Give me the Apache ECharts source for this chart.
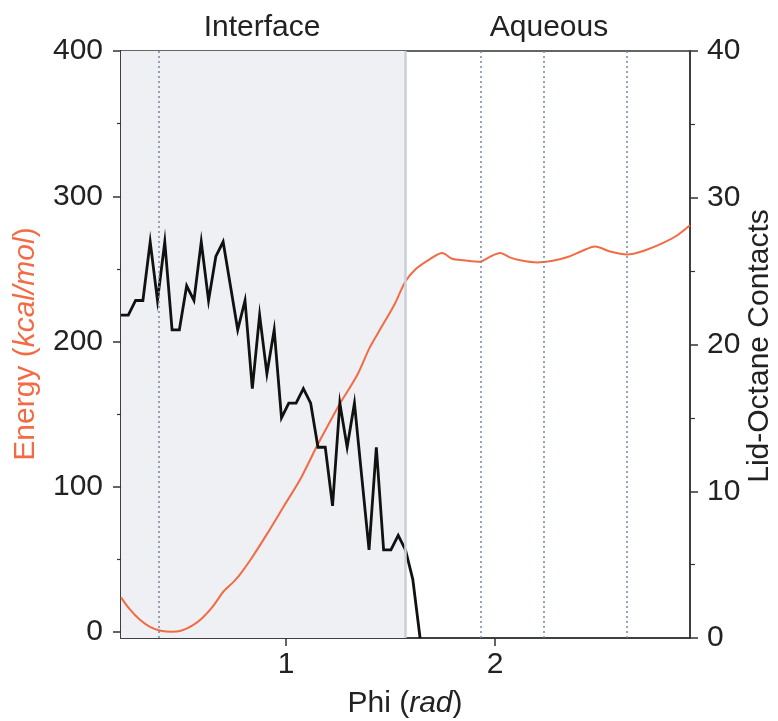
<!DOCTYPE html>
<html>
<head>
<meta charset="utf-8">
<script src="https://cdn.jsdelivr.net/npm/echarts@6/dist/echarts.min.js"></script>
<style>
html,body{margin:0;padding:0;background:#fff;}
#chart{width:778px;height:721px;}
</style>
</head>
<body>
<div id="chart"></div>
<script>
// ---- data ----
var phiRange = [0.2094, 2.9322];           // rad (12° .. 168°)
var phiTicks = [1, 2];
var energyTicks = [0, 100, 200, 300, 400];
var energyMinorTicks = [50, 150, 250, 350];
var contactTicks = [0, 10, 20, 30, 40];
var regionLabels = ['Interface', 'Aqueous'];
var interfaceEnd = 1.5708;
var markerPhi = [0.392, 1.926, 2.225, 2.626];

var energyPhi = [0.2094,0.25,0.30,0.35,0.40,0.45,0.50,0.55,0.60,0.65,0.70,0.75,0.78,0.83,0.91,0.99,1.07,1.15,1.21,1.26,1.34,1.40,1.46,1.52,1.569,1.62,1.69,1.746,1.794,1.85,1.928,1.97,2.024,2.07,2.12,2.20,2.27,2.343,2.41,2.478,2.55,2.632,2.70,2.804,2.87,2.932];
var energyValues = [24,16,8.5,3.5,1,0.3,1.2,4.5,10,18,28,35,40,50,68,87,106,129,145,158,177,196,211,226,241,250,257,261,257,256,255,258,261,258,256,254.5,255.5,258,262,265.5,262,260,262,268,273,280];

var contactPhi = [0.2094,0.2443,0.2793,0.3142,0.3491,0.3840,0.4189,0.4538,0.4887,0.5236,0.5585,0.5934,0.6283,0.6632,0.6981,0.7330,0.7679,0.8029,0.8378,0.8727,0.9076,0.9425,0.9774,1.0123,1.0472,1.0821,1.1170,1.1519,1.1868,1.2217,1.2566,1.2915,1.3265,1.3614,1.3963,1.4312,1.4661,1.5010,1.5359,1.5708,1.6057,1.6406];
var contactValues = [22,22,23,23,27,23,27,21,21,24,23,27,23,26,27,24,21,23,17,22,18,21,15,16,16,17,16,13,13,9,16,13,16,11,6,13,6,6,7,6,4,0];

// ---- chart ----
var FONT = '"Liberation Sans", Arial, Helvetica, sans-serif';
var ORANGE = '#f26b45';
var AXIS = '#333';
var chart = echarts.init(document.getElementById('chart'), null, {renderer: 'canvas'});

function zip(xs, ys) { return xs.map(function (x, i) { return [x, ys[i]]; }); }

var GL = 121, GR = 88, GT = 51, GB = 83;

var option = {
  animation: false,
  backgroundColor: '#fff',
  grid: {left: GL, right: GR, top: GT, bottom: GB, show: true, borderColor: AXIS, borderWidth: 1.5, backgroundColor: 'transparent', containLabel: false},
  xAxis: {
    type: 'value', min: phiRange[0], max: phiRange[1],
    axisLine: {show: true, onZero: false, lineStyle: {color: AXIS, width: 1.5}},
    axisTick: {show: true, customValues: phiTicks, length: 8, lineStyle: {color: AXIS, width: 1.5}},
    axisLabel: {show: true, customValues: phiTicks, margin: 12, fontSize: 30, color: '#222', fontFamily: FONT},
    splitLine: {show: false}
  },
  yAxis: [
    {
      type: 'value', position: 'left', min: -4, max: 400,
      axisLine: {show: true, onZero: false, lineStyle: {color: AXIS, width: 1.5}},
      axisTick: {show: true, customValues: energyTicks, length: 8, lineStyle: {color: AXIS, width: 1.5}},
      axisLabel: {show: true, customValues: energyTicks, margin: 18, fontSize: 30, color: '#222', fontFamily: FONT},
      splitLine: {show: false}
    },
    {
      type: 'value', position: 'right', min: 0, max: 40, interval: 10,
      axisLine: {show: true, onZero: false, lineStyle: {color: AXIS, width: 1.5}},
      axisTick: {show: true, length: 8, lineStyle: {color: AXIS, width: 1.5}},
      minorTick: {show: true, splitNumber: 2, length: 5, lineStyle: {color: AXIS, width: 1.2}},
      axisLabel: {show: true, margin: 17, fontSize: 30, color: '#222', fontFamily: FONT},
      splitLine: {show: false}
    },
    {
      type: 'value', position: 'left', min: -4, max: 400,
      axisLine: {show: false, onZero: false},
      axisTick: {show: true, customValues: energyMinorTicks, length: 4, lineStyle: {color: AXIS, width: 1.2}},
      axisLabel: {show: false},
      splitLine: {show: false}
    }
  ],
  series: [
    {
      type: 'line', yAxisIndex: 0, data: [], z: 1, silent: true,
      markArea: {
        silent: true,
        itemStyle: {color: '#eff0f3'},
        data: [[{xAxis: phiRange[0]}, {xAxis: interfaceEnd}]]
      },
      markLine: {
        silent: true, symbol: 'none', label: {show: false},
        data: [{xAxis: interfaceEnd, lineStyle: {color: '#c9d0da', width: 2.5, type: 'solid'}}]
          .concat(markerPhi.map(function (p) {
            return {xAxis: p, lineStyle: {color: '#7486a4', width: 1.5, type: [2, 3]}};
          }))
      }
    },
    {
      name: 'Energy', type: 'line', yAxisIndex: 0, z: 3,
      data: zip(energyPhi, energyValues),
      smooth: 0.3, showSymbol: false,
      lineStyle: {color: ORANGE, width: 2}
    },
    {
      name: 'Contacts', type: 'line', yAxisIndex: 1, z: 4,
      data: zip(contactPhi, contactValues),
      showSymbol: false,
      lineStyle: {color: '#111', width: 2.8, join: 'miter'}
    }
  ],
  graphic: [
    {type: 'text', x: 262, y: 28, style: {text: regionLabels[0], font: '30px ' + FONT, fill: '#222', align: 'center', verticalAlign: 'middle'}},
    {type: 'text', x: 549, y: 28, style: {text: regionLabels[1], font: '30px ' + FONT, fill: '#222', align: 'center', verticalAlign: 'middle'}},
    {type: 'text', x: 405, y: 704, style: {
      text: '{a|Phi (}{b|rad}{a|)}', align: 'center', verticalAlign: 'middle',
      rich: {a: {fontSize: 30, fontFamily: FONT, fill: '#222'}, b: {fontSize: 30, fontFamily: FONT, fontStyle: 'italic', fill: '#222'}}
    }},
    {type: 'text', x: 26, y: 344, rotation: Math.PI / 2, style: {
      text: '{a|Energy (}{b|kcal/mol}{a|)}', align: 'center', verticalAlign: 'middle',
      rich: {a: {fontSize: 30, fontFamily: FONT, fill: ORANGE}, b: {fontSize: 30, fontFamily: FONT, fontStyle: 'italic', fill: ORANGE}}
    }},
    {type: 'text', x: 760, y: 346, rotation: Math.PI / 2, style: {
      text: 'Lid-Octane Contacts', align: 'center', verticalAlign: 'middle', font: '30px ' + FONT, fill: '#222'
    }}
  ]
};
chart.setOption(option);
</script>
</body>
</html>
